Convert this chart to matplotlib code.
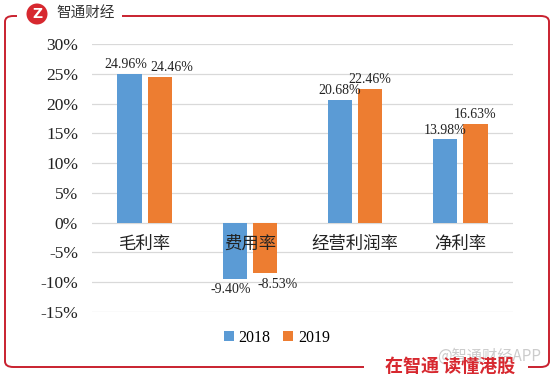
import matplotlib
matplotlib.use("Agg")
import matplotlib.pyplot as plt
from matplotlib.patches import FancyBboxPatch, Rectangle, Ellipse
from matplotlib.ticker import FuncFormatter
import numpy as np

categories = ["毛利率", "费用率", "经营利润率", "净利率"]
rate_2018 = [24.96, -9.40, 20.68, 13.98]
rate_2019 = [24.46, -8.53, 22.46, 16.63]
series_names = ["2018", "2019"]
yticks = [-15, -10, -5, 0, 5, 10, 15, 20, 25, 30]

plt.rcParams['font.family'] = ['Liberation Serif', 'Noto Sans CJK SC']
CJK = ['Noto Sans CJK SC', 'DejaVu Sans']
BLUE = '#5b9bd5'
ORANGE = '#ed7d31'
RED = '#c9212f'

W, H = 554, 379
fig = plt.figure(figsize=(W / 100, H / 100), dpi=100)

def fx(px):
    return px / W

def fy(py):
    return 1 - py / H

# plot area
ax = fig.add_axes([fx(92), fy(312), fx(513) - fx(92), fy(44) - fy(312)])
x = np.arange(len(categories))
off = 0.143
bw = 0.23
b1 = ax.bar(x - off, rate_2018, bw, color=BLUE, label=series_names[0], zorder=3)
b2 = ax.bar(x + off, rate_2019, bw, color=ORANGE, label=series_names[1], zorder=3)

ax.set_xlim(-0.5, len(categories) - 0.5)
ax.set_ylim(-15, 30)
ax.set_yticks(yticks)
ax.yaxis.set_major_formatter(FuncFormatter(lambda v, p: f"{v:.0f}%"))
ax.tick_params(axis='y', length=0, labelsize=12.5, pad=10, colors='#222222')
ax.set_xticks([])
for s in ax.spines.values():
    s.set_visible(False)
ax.grid(axis='y', color='#d9d9d9', linewidth=0.9, zorder=0)

# value labels; nudge the second one sideways when the pair is nearly level
for i in range(len(categories)):
    v1, v2 = rate_2018[i], rate_2019[i]
    push = 9 if abs(v1 - v2) < 1.5 else 0
    for r, v, dx in ((b1[i], v1, -push / 3), (b2[i], v2, push)):
        cx = r.get_x() + r.get_width() / 2
        if v >= 0:
            ax.annotate(f"{v:.2f}%", (cx, v), xytext=(dx, 2), textcoords='offset points',
                        ha='center', va='bottom', fontsize=10, color='#222222', zorder=5)
        else:
            ax.annotate(f"{v:.2f}%", (cx, v), xytext=(dx, -3), textcoords='offset points',
                        ha='center', va='top', fontsize=10, color='#222222', zorder=5)

for i, c in enumerate(categories):
    ax.text(i, -3.5, c, ha='center', va='center', fontsize=12.5, family=CJK, color='#222222', zorder=6)

leg = fig.legend(handles=[b1, b2], labels=series_names, loc='center', bbox_to_anchor=(fx(277), fy(338)),
                 ncol=2, frameon=False, fontsize=11.5, handlelength=0.6, handleheight=0.6,
                 handletextpad=0.3, columnspacing=0.8)

# red rounded frame
frame = FancyBboxPatch((fx(5), fy(367)), fx(549) - fx(5), fy(16) - fy(367),
                       boxstyle="round,pad=0,rounding_size=0.015", transform=fig.transFigure,
                       fill=False, edgecolor=RED, linewidth=1.4, zorder=1)
fig.patches.append(frame)
# gaps in the frame
fig.patches.append(Rectangle((fx(17), fy(22)), fx(122) - fx(17), fy(8) - fy(22),
                             transform=fig.transFigure, facecolor='white', edgecolor='none', zorder=2))
fig.patches.append(Rectangle((fx(364), fy(374)), fx(528) - fx(364), fy(358) - fy(374),
                             transform=fig.transFigure, facecolor='white', edgecolor='none', zorder=2))

# logo
fig.patches.append(Ellipse((fx(37), fy(14)), 21 / W, 21 / H, transform=fig.transFigure,
                           facecolor='#d7282f', edgecolor='none', zorder=3))
fig.text(fx(37), fy(14), "Z", ha='center', va='center', fontsize=10, fontweight='bold',
         color='white', family=['DejaVu Sans'], zorder=4)
fig.text(fx(56), fy(14), "智通财经", ha='left', va='center', fontsize=10.5, color='#333333', family=CJK, zorder=4)

# footer slogan and watermark
fig.text(fx(437), fy(356), "@智通财经APP", ha='left', va='center', fontsize=11, color='#cccccc', family=CJK, zorder=4)
fig.text(fx(385), fy(366), "在智通 读懂港股", ha='left', va='center', fontsize=13, fontweight='bold',
         color='#d7282f', family=CJK, zorder=5)

fig.savefig("out.png", dpi=100)
